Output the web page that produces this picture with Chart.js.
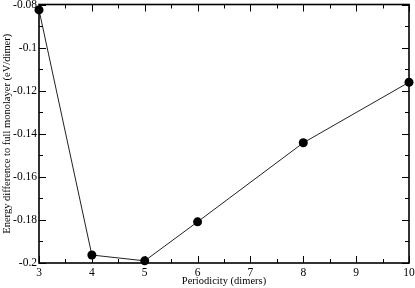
<!DOCTYPE html>
<html>
<head>
<meta charset="utf-8">
<script src="https://cdn.jsdelivr.net/npm/chart.js@4/dist/chart.umd.min.js"></script>
<style>
  html, body { margin: 0; padding: 0; background: #fff; }
  #wrap { width: 415px; height: 288px; }
</style>
</head>
<body>
<div id="wrap"><canvas id="myChart"></canvas></div>
<script>
// datos
var periodicity = [3, 4, 5, 6, 8, 10];
var energyDiff = [-0.0825, -0.1963, -0.199, -0.1809, -0.1442, -0.1161];
var xTickLabels = ['3', '4', '5', '6', '7', '8', '9', '10'];
var yTickLabels = ['-0.2', '-0.18', '-0.16', '-0.14', '-0.12', '-0.1', '-0.08'];

var serif = '"Liberation Serif", "DejaVu Serif", serif';

// ticks hacia adentro en los cuatro lados (estilo xmgrace)
var frameTicks = {
    id: 'frameTicks',
    afterDraw: function (chart) {
        var ctx = chart.ctx;
        var a = chart.chartArea;
        var xs = chart.scales.x, ys = chart.scales.y;
        ctx.save();
        ctx.strokeStyle = '#000';
        ctx.lineWidth = 1;
        var v, p, len;
        for (v = 3; v <= 10.001; v += 0.5) {
            p = Math.round(xs.getPixelForValue(v)) + 0.5;
            len = (Math.abs(v - Math.round(v)) < 0.01) ? 7 : 4;
            ctx.beginPath();
            ctx.moveTo(p, a.bottom); ctx.lineTo(p, a.bottom - len);
            ctx.moveTo(p, a.top); ctx.lineTo(p, a.top + len);
            ctx.stroke();
        }
        for (var i = 0; i <= 12; i++) {
            v = -0.2 + i * 0.01;
            p = Math.round(ys.getPixelForValue(v)) + 0.5;
            len = (i % 2 === 0) ? 7 : 4;
            ctx.beginPath();
            ctx.moveTo(a.left, p); ctx.lineTo(a.left + len, p);
            ctx.moveTo(a.right, p); ctx.lineTo(a.right - len, p);
            ctx.stroke();
        }
        ctx.lineWidth = 1.6;
        ctx.strokeRect(a.left, a.top, a.right - a.left, a.bottom - a.top);
        ctx.restore();
    }
};

document.addEventListener('DOMContentLoaded', function () {
    createLineChart();
});

function createLineChart() {
    var points = periodicity.map(function (p, i) {
        return { x: p, y: energyDiff[i] };
    });

    var ctx = document.getElementById('myChart').getContext('2d');
    var myChart = new Chart(ctx, {
        type: 'line',
        data: {
            datasets: [{
                data: points,
                borderColor: '#222',
                borderWidth: 1,
                backgroundColor: '#000',
                pointRadius: 4.5,
                pointHoverRadius: 4.5,
                pointBackgroundColor: '#000',
                pointBorderWidth: 0,
                tension: 0,
                clip: false
            }]
        },
        options: {
            responsive: true,
            maintainAspectRatio: false,
            animation: false,
            layout: { padding: { left: 0, top: 4, right: 6, bottom: 0 } },
            plugins: {
                legend: { display: false },
                tooltip: { enabled: false }
            },
            scales: {
                x: {
                    type: 'linear',
                    min: 3,
                    max: 10,
                    grid: { display: false, drawTicks: false },
                    border: { display: false },
                    ticks: {
                        stepSize: 1,
                        padding: 3,
                        color: '#000',
                        font: { family: serif, size: 11.5 },
                        maxRotation: 0,
                        callback: function (v) {
                            return xTickLabels[Math.round(v) - 3];
                        }
                    },
                    title: {
                        display: true,
                        text: 'Periodicity (dimers)',
                        color: '#000',
                        font: { family: serif, size: 10.5 },
                        padding: { top: 0, bottom: 0 }
                    },
                    afterFit: function (s) {
                        s.height = 25;
                        s.paddingLeft = 0;
                        s.paddingRight = 0;
                    }
                },
                y: {
                    min: -0.2,
                    max: -0.08,
                    grid: { display: false, drawTicks: false },
                    border: { display: false },
                    ticks: {
                        stepSize: 0.02,
                        padding: 2,
                        color: '#000',
                        font: { family: serif, size: 11.5 },
                        callback: function (v) {
                            var idx = Math.round((v + 0.2) / 0.02);
                            return yTickLabels[idx];
                        }
                    },
                    title: {
                        display: true,
                        text: 'Energy difference to full monolayer (eV/dimer)',
                        color: '#000',
                        font: { family: serif, size: 10.5 },
                        padding: { top: 0.5, bottom: 0 }
                    },
                    afterFit: function (s) {
                        s.width = 39;
                        s.paddingTop = 0;
                        s.paddingBottom = 0;
                    }
                }
            }
        },
        plugins: [frameTicks]
    });
}
</script>
</body>
</html>
